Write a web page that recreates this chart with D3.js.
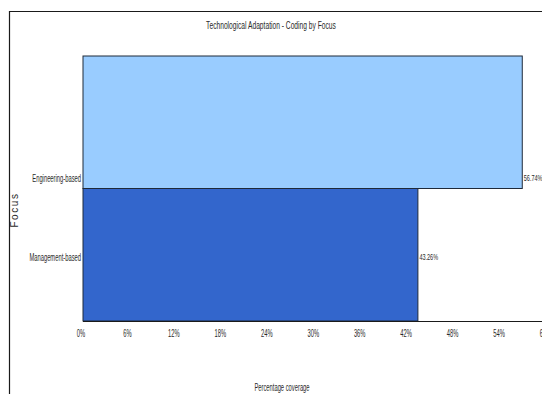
<!DOCTYPE html>
<html>
<head>
<meta charset="utf-8">
<script src="https://cdn.jsdelivr.net/npm/d3@7"></script>
<style>
  html, body { margin: 0; padding: 0; background: #fff; }
  svg { display: block; }
  text { font-family: "Liberation Sans", Arial, sans-serif; fill: #2a2a2a; }
</style>
</head>
<body>
<svg id="chart" width="542" height="394"></svg>
<script>
// Coding coverage by focus
const categories = ["Engineering-based", "Management-based"];
const coverage = [56.74, 43.26];
const barColors = ["#99ccff", "#3366cc"];
const tickValues = [0, 6, 12, 18, 24, 30, 36, 42, 48, 54, 60];
const chartTitle = "Technological Adaptation - Coding by Focus";
const xTitle = "Percentage coverage";
const yTitle = "Focus";

const svg = d3.select("#chart");
const W = 542, H = 394;
const squeeze = 0.58; // narrow lettering used throughout the chart

// fit a text element to a condensed width
function condense(sel, factor) {
  sel.each(function () {
    const n = this.getComputedTextLength();
    d3.select(this).attr("textLength", n * factor).attr("lengthAdjust", "spacingAndGlyphs");
  });
}

// outer frame (top and left edges)
svg.append("path")
  .attr("d", `M9.5,${H} V11.5 H${W}`)
  .attr("fill", "none").attr("stroke", "#1a1a1a").attr("stroke-width", 1.2);

const x = d3.scaleLinear().domain([0, 60]).range([83, 547.5]);
const y = d3.scaleBand().domain(categories).range([56, 321]).paddingInner(0).paddingOuter(0);
// category label positions along the vertical axis
const yLabel = d3.scalePoint().domain(categories).range([178, 257]);

// bars
svg.append("g").selectAll("rect")
  .data(categories)
  .join("rect")
  .attr("x", x(0))
  .attr("y", d => y(d))
  .attr("width", (d, i) => x(coverage[i]) - x(0))
  .attr("height", y.bandwidth())
  .attr("fill", (d, i) => barColors[i])
  .attr("stroke", "#1f2a3a")
  .attr("stroke-width", 1);

// x axis baseline
svg.append("line")
  .attr("x1", x(0)).attr("x2", W)
  .attr("y1", 321.5).attr("y2", 321.5)
  .attr("stroke", "#1a1a1a").attr("stroke-width", 1.2);

// x tick labels
const xt = svg.append("g").selectAll("text")
  .data(tickValues)
  .join("text")
  .attr("x", d => x(d) - 2)
  .attr("y", 337)
  .attr("text-anchor", "middle")
  .attr("font-size", 10)
  .text(d => d + "%");
condense(xt, squeeze);

// category labels
const yt = svg.append("g").selectAll("text")
  .data(categories)
  .join("text")
  .attr("x", 81)
  .attr("y", d => yLabel(d) + 3.5)
  .attr("text-anchor", "end")
  .attr("font-size", 10)
  .text(d => d);
condense(yt, squeeze);

// value labels
const vl = svg.append("g").selectAll("text")
  .data(categories)
  .join("text")
  .attr("x", (d, i) => x(coverage[i]) + 1.5)
  .attr("y", d => yLabel(d) + 3)
  .attr("font-size", 9.5)
  .text((d, i) => coverage[i].toFixed(2) + "%");
condense(vl, squeeze);

// chart title
const t = svg.append("text")
  .attr("x", 271).attr("y", 29)
  .attr("text-anchor", "middle")
  .attr("font-size", 11.5)
  .text(chartTitle);
condense(t, squeeze);

// x axis title
const xtl = svg.append("text")
  .attr("x", 282).attr("y", 391)
  .attr("text-anchor", "middle")
  .attr("font-size", 10)
  .text(xTitle);
condense(xtl, squeeze);

// y axis title
svg.append("text")
  .attr("transform", "translate(18,210) rotate(-90)")
  .attr("text-anchor", "middle")
  .attr("font-size", 10)
  .attr("letter-spacing", 1.6)
  .attr("fill", "#3a3a3a")
  .text(yTitle);
</script>
</body>
</html>
